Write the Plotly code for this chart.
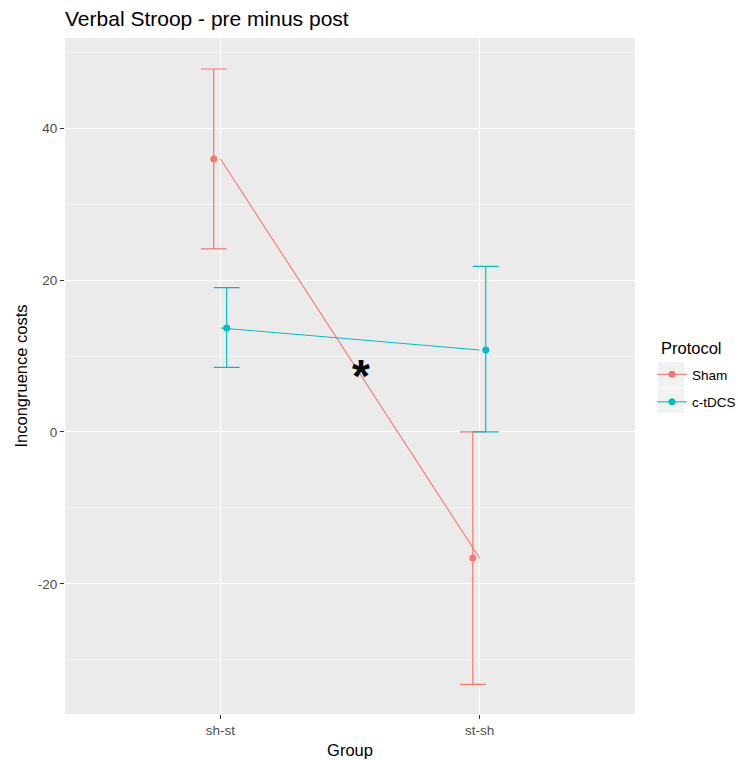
import plotly.graph_objects as go

# Group labels and their positions on the numeric x axis
groups = ["sh-st", "st-sh"]
group_pos = [1, 2]

protocols = ["Sham", "c-tDCS"]
colors = {"Sham": "#F8766D", "c-tDCS": "#00BFC4"}

# Mean incongruence costs (pre minus post) and error-bar limits
sham_mean = [35.95, -16.6]
sham_upper = [47.8, 0.0]
sham_lower = [24.1, -33.25]

ctdcs_mean = [13.7, 10.8]
ctdcs_upper = [19.0, 21.8]
ctdcs_lower = [8.5, 0.0]

# y-axis ticks (plain hyphen for negatives)
y_ticks = [-20, 0, 20, 40]
y_tick_text = ["-20", "0", "20", "40"]

series = {
    "Sham": (sham_mean, sham_upper, sham_lower),
    "c-tDCS": (ctdcs_mean, ctdcs_upper, ctdcs_lower),
}
dodge = {"Sham": -0.026, "c-tDCS": 0.024}

# Significance marker position
star_x = 1.544
star_y = 8.4

W, H = 738, 760
ML, MR, MT, MB = 65, 103, 38, 46
PW, PH = W - ML - MR, H - MT - MB


def px_x(p):
    return (p - ML) / PW


def px_y(p):
    return (H - MB - p) / PH


fig = go.Figure()

for name in protocols:
    mean, upper, lower = series[name]
    col = colors[name]
    # connecting line at the undodged group positions
    fig.add_trace(go.Scatter(
        x=group_pos, y=mean, mode="lines",
        line=dict(color=col, width=1.1),
        showlegend=False, hoverinfo="skip"))
    # dodged points with error bars
    xs = [p + dodge[name] for p in group_pos]
    fig.add_trace(go.Scatter(
        x=xs, y=mean, mode="markers",
        marker=dict(color=col, size=7),
        error_y=dict(type="data", symmetric=False,
                     array=[u - m for u, m in zip(upper, mean)],
                     arrayminus=[m - l for m, l in zip(mean, lower)],
                     color=col, thickness=1.2, width=13),
        showlegend=False))
    # legend entry
    fig.add_trace(go.Scatter(
        x=[None], y=[None], mode="lines+markers", name=name, legendgroup=name,
        line=dict(color=col, width=1.1),
        marker=dict(color=col, size=7)))

fig.add_annotation(x=star_x, y=star_y, text="<b>*</b>", showarrow=False,
                   font=dict(size=46, color="black", family="Liberation Sans"),
                   xanchor="center", yanchor="middle", yshift=-8)

# legend title
fig.add_annotation(x=px_x(659), y=px_y(348), xref="paper", yref="paper",
                   text="Protocol", showarrow=False, xanchor="left", yanchor="middle",
                   font=dict(size=16.5, color="black"))

# light key backgrounds behind the legend symbols
for top in (362, 388):
    fig.add_shape(type="rect", xref="paper", yref="paper",
                  x0=px_x(658), x1=px_x(684), y0=px_y(top + 25), y1=px_y(top),
                  fillcolor="#F2F2F2", line=dict(width=0), layer="below")

fig.update_layout(
    width=W, height=H,
    margin=dict(l=ML, r=MR, t=MT, b=MB, autoexpand=False),
    paper_bgcolor="white",
    plot_bgcolor="#EBEBEB",
    font=dict(family="Liberation Sans, Arial, sans-serif", color="#4D4D4D"),
    title=dict(text="Verbal Stroop - pre minus post", x=ML / W, xanchor="left",
               y=1 - 19 / H, yanchor="middle",
               font=dict(size=21, color="black")),
    legend=dict(x=px_x(652), xanchor="left", y=px_y(359), yanchor="top",
                font=dict(size=13.5, color="black"),
                bgcolor="rgba(0,0,0,0)", tracegroupgap=7, itemwidth=30),
)

fig.update_xaxes(
    range=[0.4, 2.6], tickvals=group_pos, ticktext=groups,
    showgrid=True, gridcolor="white", gridwidth=1.1,
    zeroline=False, ticks="outside", ticklen=4, tickcolor="#333333",
    tickfont=dict(size=13.5, color="#4D4D4D"),
    title=dict(text="Group", font=dict(size=16.5, color="black"), standoff=7),
)
fig.update_yaxes(
    range=[-37.14, 51.88], tickvals=y_ticks, ticktext=y_tick_text,
    showgrid=True, gridcolor="white", gridwidth=1.1,
    minor=dict(tickvals=[-30, -10, 10, 30, 50], showgrid=True,
               gridcolor="#F5F5F5", gridwidth=0.6),
    zeroline=False, ticks="outside", ticklen=4, tickcolor="#333333",
    tickfont=dict(size=13.5, color="#4D4D4D"),
    title=dict(text="Incongruence costs", font=dict(size=16.5, color="black"), standoff=6),
)

fig.write_html("out.html")
